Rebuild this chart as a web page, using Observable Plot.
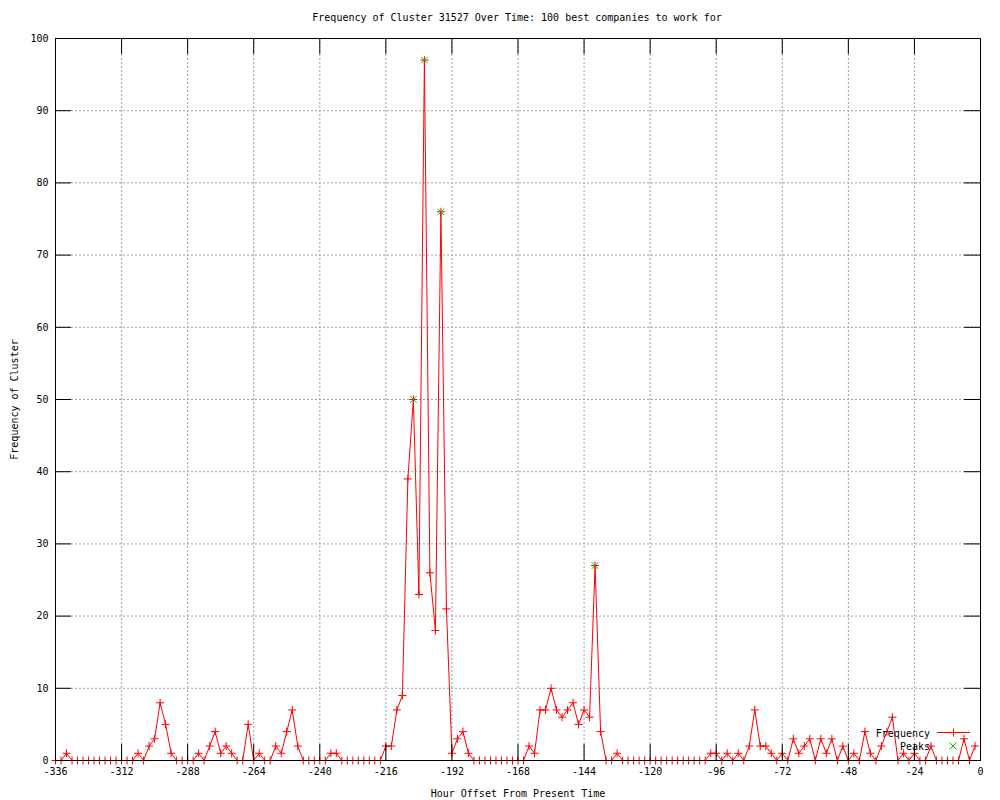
<!DOCTYPE html>
<html>
<head>
<meta charset="utf-8">
<script src="https://cdn.jsdelivr.net/npm/d3@7"></script>
<script src="https://cdn.jsdelivr.net/npm/@observablehq/plot@0.6"></script>
<style>
  html, body { margin: 0; padding: 0; background: white; }
  #wrap { position: relative; width: 1000px; height: 800px; font-family: "DejaVu Sans Mono", monospace; }
  #title { height: 30px; box-sizing: border-box; padding-top: 12px; font-size: 10px; line-height: 12px; text-align: center; padding-left: 34px; }
  #legend { position: absolute; left: 0; top: 0; pointer-events: none; }
</style>
</head>
<body>
<div id="wrap">
  <div id="title">Frequency of Cluster 31527 Over Time: 100 best companies to work for</div>
  <div id="chart"></div>
  <svg id="legend" width="1000" height="800" font-family="DejaVu Sans Mono" font-size="10">
    <text x="930" y="736.5" text-anchor="end">Frequency</text>
    <line x1="937" y1="732.5" x2="970" y2="732.5" stroke="#ff0000"/>
    <path d="M949,732.5h8M953.5,728.5v8" stroke="#ff0000"/>
    <text x="930" y="749.5" text-anchor="end">Peaks</text>
    <path d="M949.5,742.5l7,7M956.5,742.5l-7,7" stroke="#00c000"/>
  </svg>
</div>
<script>
const hours = [
  -336,-334,-332,-330,-328,-326,-324,-322,-320,-318,-316,-314,
  -312,-310,-308,-306,-304,-302,-300,-298,-296,-294,-292,-290,
  -288,-286,-284,-282,-280,-278,-276,-274,-272,-270,-268,-266,
  -264,-262,-260,-258,-256,-254,-252,-250,-248,-246,-244,-242,
  -240,-238,-236,-234,-232,-230,-228,-226,-224,-222,-220,-218,
  -216,-214,-212,-210,-208,-206,-204,-202,-200,-198,-196,-194,
  -192,-190,-188,-186,-184,-182,-180,-178,-176,-174,-172,-170,
  -168,-166,-164,-162,-160,-158,-156,-154,-152,-150,-148,-146,
  -144,-142,-140,-138,-136,-134,-132,-130,-128,-126,-124,-122,
  -120,-118,-116,-114,-112,-110,-108,-106,-104,-102,-100,-98,
  -96,-94,-92,-90,-88,-86,-84,-82,-80,-78,-76,-74,
  -72,-70,-68,-66,-64,-62,-60,-58,-56,-54,-52,-50,
  -48,-46,-44,-42,-40,-38,-36,-34,-32,-30,-28,-26,
  -24,-22,-20,-18,-16,-14,-12,-10,-8,-6,-4,-2
];
const frequency = [
  0,0,1,0,0,0,0,0,0,0,0,0,
  0,0,0,1,0,2,3,8,5,1,0,0,
  0,0,1,0,2,4,1,2,1,0,0,5,
  0,1,0,0,2,1,4,7,2,0,0,0,
  0,0,1,1,0,0,0,0,0,0,0,0,
  2,2,7,9,39,50,23,97,26,18,76,21,
  1,3,4,1,0,0,0,0,0,0,0,0,
  0,0,2,1,7,7,10,7,6,7,8,5,
  7,6,27,4,0,0,1,0,0,0,0,0,
  0,0,0,0,0,0,0,0,0,0,0,1,
  1,0,1,0,1,0,2,7,2,2,1,0,
  1,0,3,1,2,3,0,3,1,3,0,2,
  0,1,0,4,1,0,2,4,6,0,1,0,
  1,0,0,2,0,0,0,0,0,3,0,2
];
const peakHours = [-206, -202, -196, -140];
const peakValues = [50, 97, 76, 27];
const xTicks = [-336,-312,-288,-264,-240,-216,-192,-168,-144,-120,-96,-72,-48,-24,0];
const yTicks = [0,10,20,30,40,50,60,70,80,90,100];

const series = hours.map((h, i) => ({hour: h, value: frequency[i]}));
const peaks = peakHours.map((h, i) => ({hour: h, value: peakValues[i]}));

const width = 1000, height = 770;
const mL = 55, mR = 20, mT = 8, mB = 40;
const innerW = width - mL - mR, innerH = height - mT - mB;
const tickLen = 16;
const gridStyle = {stroke: "#a0a0a0", strokeOpacity: 1, strokeDasharray: "2,2"};

const chart = Plot.plot({
  width, height,
  marginLeft: mL, marginRight: mR, marginTop: mT, marginBottom: mB,
  style: {fontFamily: "DejaVu Sans Mono", fontSize: "10px", color: "black", background: "white", overflow: "visible"},
  x: {domain: [-336, 0]},
  y: {domain: [0, 100]},
  marks: [
    Plot.gridX(xTicks, gridStyle),
    Plot.gridY(yTicks, gridStyle),
    Plot.axisX(xTicks, {tickSize: 0, tickPadding: 7, tickFormat: d => String(d),
      label: "Hour Offset From Present Time", labelAnchor: "center", labelArrow: "none", labelOffset: 36}),
    Plot.axisY(yTicks, {tickSize: 0, tickPadding: 7, tickFormat: d => String(d),
      label: "Frequency of Cluster", labelAnchor: "center", labelArrow: "none", labelOffset: 45}),
    Plot.line(series, {x: "hour", y: "value", stroke: "#ff0000", strokeWidth: 1}),
    Plot.dot(series, {x: "hour", y: "value", symbol: "plus", stroke: "#ff0000", fill: "none", r: 2.7, strokeWidth: 1}),
    Plot.dot(peaks, {x: "hour", y: "value", symbol: "times", stroke: "#00c000", fill: "none", r: 3.1, strokeWidth: 1}),
    Plot.tickX(xTicks, {x: d => d, stroke: "black", insetTop: innerH - tickLen}),
    Plot.tickX(xTicks, {x: d => d, stroke: "black", insetBottom: innerH - tickLen}),
    Plot.tickY(yTicks, {y: d => d, stroke: "black", insetRight: innerW - tickLen}),
    Plot.tickY(yTicks, {y: d => d, stroke: "black", insetLeft: innerW - tickLen}),
    Plot.frame({stroke: "black"})
  ]
});
document.getElementById("chart").appendChild(chart);
</script>
</body>
</html>
